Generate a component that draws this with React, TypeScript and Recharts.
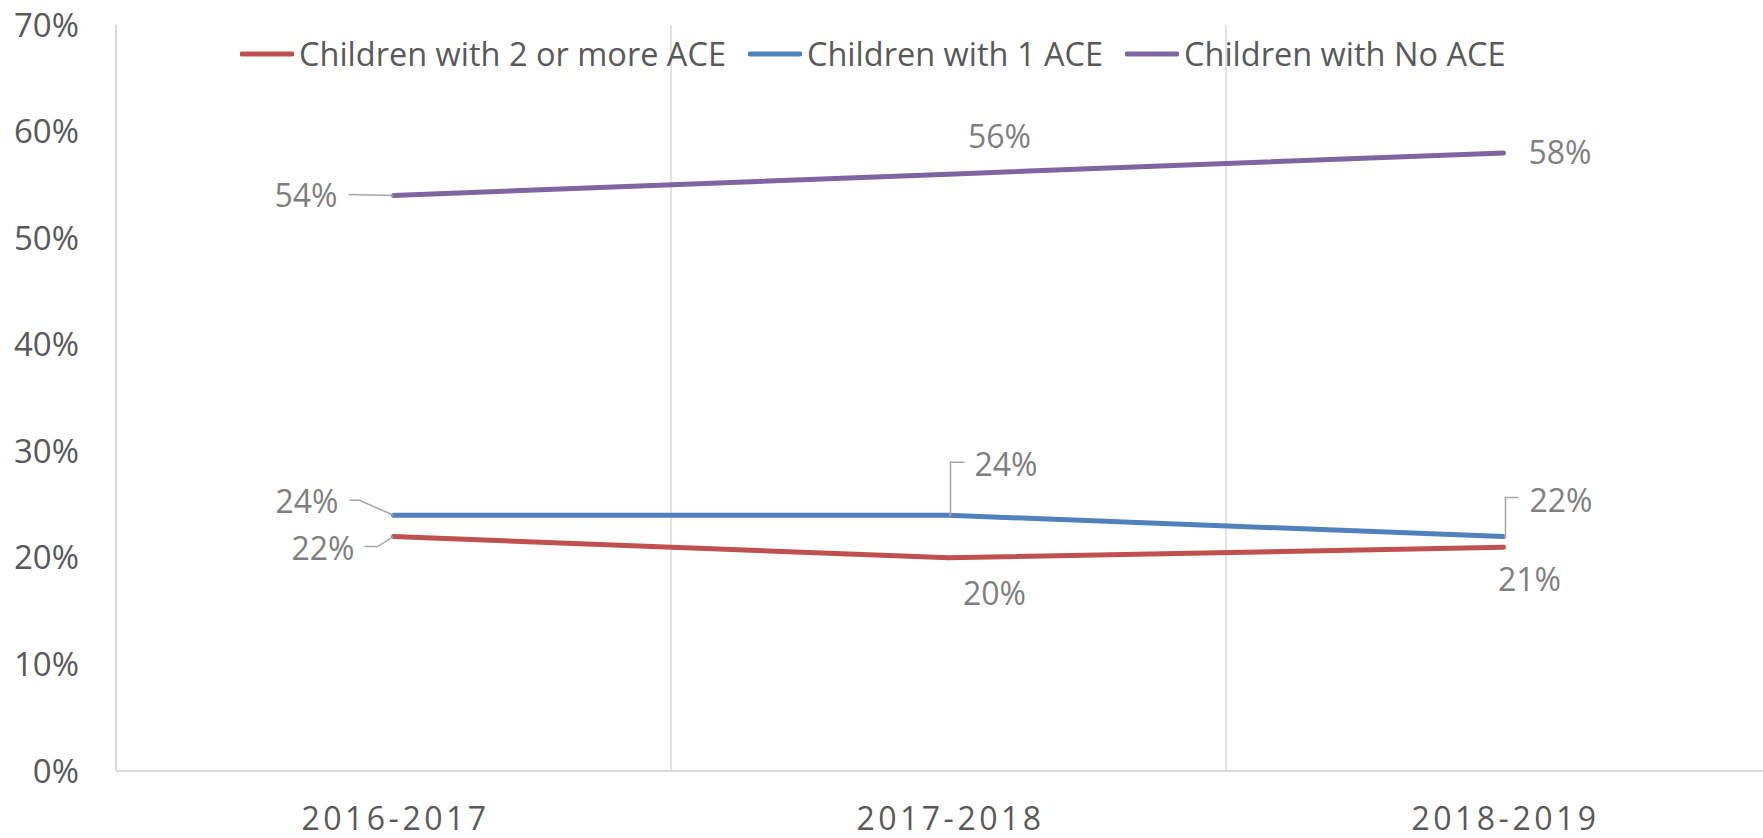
import React from "react";
import { LineChart, Line, XAxis, YAxis, CartesianGrid, LabelList } from "recharts";

const categories = ["2016-2017", "2017-2018", "2018-2019"];
const twoOrMoreAce = [22, 20, 21];
const oneAce = [24, 24, 22];
const noAce = [54, 56, 58];
const yTicks = [0, 10, 20, 30, 40, 50, 60, 70];

const FONT = "'Open Sans', sans-serif";
const AXIS_TEXT = "#595959";
const LABEL_TEXT = "#7f7f7f";
const GRID = "#d9d9d9";
const LEADER = "#a6a6a6";

const series = [
  { key: "twoPlus", name: "Children with 2 or more ACE", color: "#c0504d", values: twoOrMoreAce },
  { key: "one", name: "Children with 1 ACE", color: "#4f81bd", values: oneAce },
  { key: "none", name: "Children with No ACE", color: "#8064a2", values: noAce },
];

const data = categories.map((period, i) => ({
  period,
  twoPlus: twoOrMoreAce[i],
  one: oneAce[i],
  none: noAce[i],
}));

// label placement relative to the point: anchor, dx, dy, optional leader path
type Placement = { anchor: "start" | "middle" | "end"; dx: number; dy: number; leader?: [number, number][] };

const placements: Record<string, Placement[]> = {
  twoPlus: [
    { anchor: "end", dx: -39, dy: 11, leader: [[-29, 10], [-16, 10], [0, 0]] },
    { anchor: "middle", dx: 46, dy: 35 },
    { anchor: "middle", dx: 26, dy: 31 },
  ],
  one: [
    { anchor: "end", dx: -55, dy: -15, leader: [[-44, -15], [-34, -15], [0, 0]] },
    { anchor: "start", dx: 26, dy: -52, leader: [[0, 0], [2, 0], [2, -53], [16, -53]] },
    { anchor: "start", dx: 26, dy: -37, leader: [[0, 0], [2, 0], [2, -39], [15, -39]] },
  ],
  none: [
    { anchor: "end", dx: -56, dy: -1, leader: [[-45, -1], [0, 0]] },
    { anchor: "middle", dx: 51, dy: -39 },
    { anchor: "start", dx: 25, dy: -1 },
  ],
};

const makeLabel = (key: string) => (props: any) => {
  const { x, y, value, index } = props;
  const p = placements[key][index];
  if (!p) return null;
  return (
    <g>
      {p.leader && (
        <polyline
          points={p.leader.map(([a, b]) => `${x + a},${y + b}`).join(" ")}
          fill="none"
          stroke={LEADER}
          strokeWidth={1.5}
        />
      )}
      <text
        x={x + p.dx}
        y={y + p.dy}
        textAnchor={p.anchor}
        dominantBaseline="central"
        fill={LABEL_TEXT}
        fontSize={32}
        fontFamily={FONT}
      >
        {`${value}%`}
      </text>
    </g>
  );
};

const YTick = ({ x, y, payload }: any) => (
  <text x={x} y={y - 1} textAnchor="end" dominantBaseline="central" fill={AXIS_TEXT} fontSize={33} fontFamily={FONT}>
    {`${payload.value}%`}
  </text>
);

const XTick = ({ x, y, payload }: any) => (
  <text
    x={x + 2}
    y={y + 38}
    textAnchor="middle"
    dominantBaseline="central"
    fill={AXIS_TEXT}
    fontSize={32}
    letterSpacing={3.5}
    fontFamily={FONT}
  >
    {payload.value}
  </text>
);

function ChartLegend() {
  return (
    <div
      style={{
        position: "absolute",
        top: 32,
        left: 240,
        display: "flex",
        alignItems: "center",
        fontFamily: FONT,
        fontSize: 32.5,
        lineHeight: "44px",
        color: AXIS_TEXT,
        whiteSpace: "nowrap",
      }}
    >
      {series.map((s) => (
        <div key={s.key} style={{ display: "flex", alignItems: "center", marginRight: 22 }}>
          <svg width={54} height={10} style={{ marginRight: 5 }}>
            <line x1={2} y1={5} x2={52} y2={5} stroke={s.color} strokeWidth={5} strokeLinecap="round" />
          </svg>
          <span>{s.name}</span>
        </div>
      ))}
    </div>
  );
}

export default function App() {
  return (
    <div
      style={{
        position: "absolute",
        left: 0,
        top: 0,
        width: 1763,
        height: 838,
        overflow: "hidden",
        background: "#fff",
      }}
    >
      <LineChart width={1800} height={838} data={data} margin={{ top: 25, right: 19, left: 0, bottom: 0 }}>
        <CartesianGrid
          horizontal={false}
          stroke={GRID}
          strokeWidth={1.5}
          verticalCoordinatesGenerator={({ offset }: any) => [
            offset.left + offset.width / 3,
            offset.left + (2 * offset.width) / 3,
          ]}
        />
        <XAxis
          dataKey="period"
          scale="band"
          height={67}
          axisLine={{ stroke: GRID, strokeWidth: 2 }}
          tickLine={false}
          tick={<XTick />}
          interval={0}
        />
        <YAxis
          width={116}
          domain={[0, 70]}
          ticks={yTicks}
          axisLine={{ stroke: GRID, strokeWidth: 2 }}
          tickLine={false}
          tickSize={0}
          tickMargin={37}
          tick={<YTick />}
          interval={0}
        />
        {series.map((s) => (
          <Line
            key={s.key}
            type="linear"
            dataKey={s.key}
            name={s.name}
            stroke={s.color}
            strokeWidth={5}
            strokeLinecap="round"
            dot={false}
            activeDot={false}
            isAnimationActive={false}
          >
            <LabelList dataKey={s.key} content={makeLabel(s.key)} />
          </Line>
        ))}
      </LineChart>
      <ChartLegend />
    </div>
  );
}
